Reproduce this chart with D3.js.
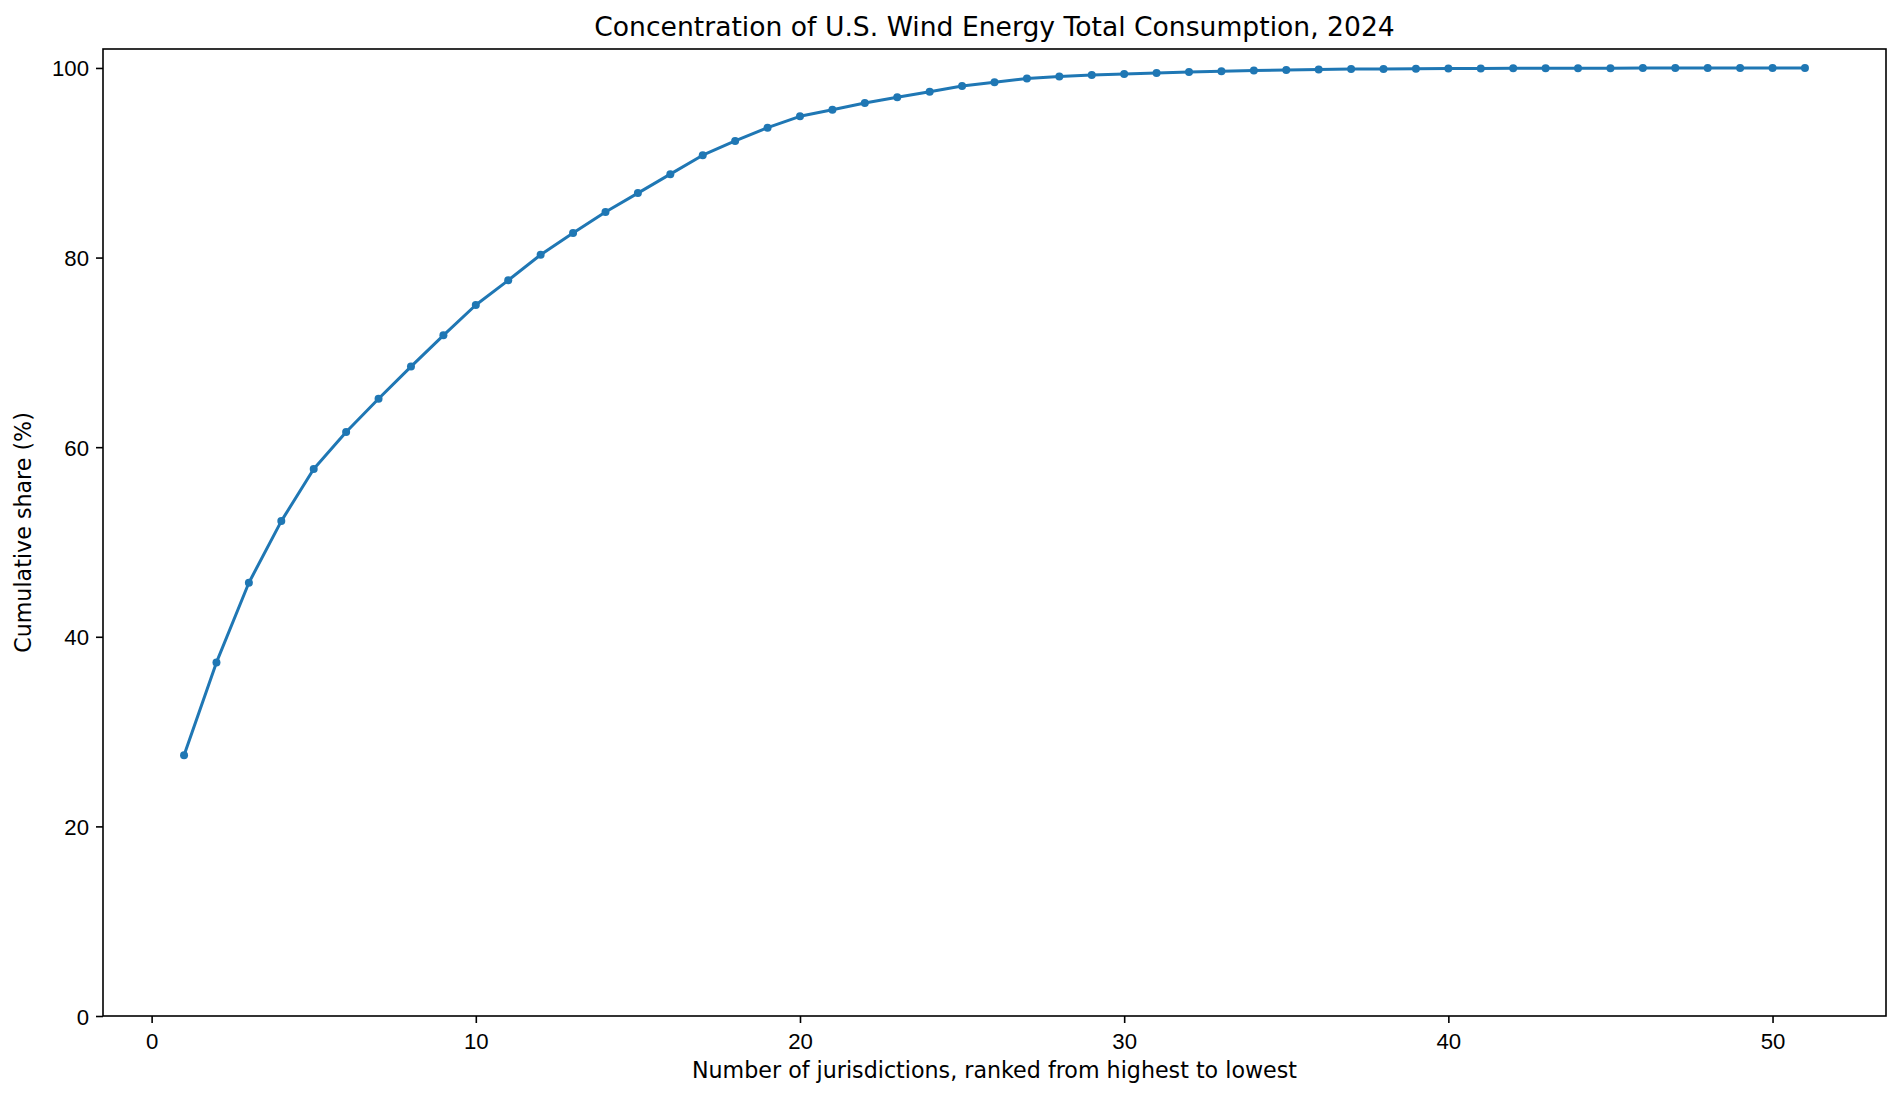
<!DOCTYPE html>
<html>
<head>
<meta charset="utf-8">
<script src="https://cdn.jsdelivr.net/npm/d3@7"></script>
<style>
  body { margin: 0; background: #fff; }
  svg { display: block; font-family: "DejaVu Sans", sans-serif; }
  .tick text { font-size: 22.2px; fill: #000; }
  .tick line { stroke: #000; stroke-width: 1.6; }
</style>
</head>
<body>
<div id="chart"></div>
<script>
// rank of jurisdiction, 1 = highest
var ranks = d3.range(1, 52);
// cumulative share of wind energy total consumption (%)
var cumShare = [
    27.5, 37.3, 45.7, 52.2, 57.7, 61.6, 65.1, 68.5, 71.8, 75.0,
    77.6, 80.3, 82.6, 84.8, 86.8, 88.8, 90.8, 92.3, 93.7, 94.9,
    95.6, 96.3, 96.9, 97.5, 98.1, 98.5, 98.9, 99.1, 99.25, 99.37,
    99.47, 99.57, 99.65, 99.74, 99.79, 99.85, 99.88, 99.9, 99.92, 99.93,
    99.95, 99.96, 99.97, 99.98, 99.98, 99.99, 99.99, 100, 100, 100, 100
];
var xTicks = [0, 10, 20, 30, 40, 50];
var yTicks = [0, 20, 40, 60, 80, 100];

var data = ranks.map(function(r, i) { return [r, cumShare[i]]; });

var width = 1902, height = 1096;
var margin = {top: 49, right: 16, bottom: 80, left: 103};
var innerW = width - margin.left - margin.right;
var innerH = height - margin.top - margin.bottom;

var svg = d3.select("#chart").append("svg")
    .attr("width", width)
    .attr("height", height);

var g = svg.append("g")
    .attr("transform", "translate(" + margin.left + "," + margin.top + ")");

var x = d3.scaleLinear().domain([-1.5, 53.5]).range([0, innerW]);
var y = d3.scaleLinear().domain([0, 102]).range([innerH, 0]);

var xAxis = g.append("g")
    .attr("transform", "translate(0," + innerH + ")")
    .call(d3.axisBottom(x).tickValues(xTicks).tickSize(7).tickPadding(6).tickSizeOuter(0));
var yAxis = g.append("g")
    .call(d3.axisLeft(y).tickValues(yTicks).tickSize(7).tickPadding(7).tickSizeOuter(0));
xAxis.select(".domain").remove();
yAxis.select(".domain").remove();
xAxis.selectAll(".tick text").attr("dy", "0.9em");
yAxis.selectAll(".tick text").attr("dy", "0.36em");

var line = d3.line()
    .x(function(d) { return x(d[0]); })
    .y(function(d) { return y(d[1]); });

g.append("path")
    .datum(data)
    .attr("d", line)
    .attr("fill", "none")
    .attr("stroke", "#1f77b4")
    .attr("stroke-width", 3)
    .attr("stroke-linejoin", "round")
    .attr("stroke-linecap", "square");

g.selectAll(".dot")
    .data(data)
    .enter()
    .append("circle")
    .attr("class", "dot")
    .attr("cx", function(d) { return x(d[0]); })
    .attr("cy", function(d) { return y(d[1]); })
    .attr("r", 4)
    .attr("fill", "#1f77b4");

// frame
g.append("rect")
    .attr("width", innerW)
    .attr("height", innerH)
    .attr("fill", "none")
    .attr("stroke", "#000")
    .attr("stroke-width", 1.6);

svg.append("text")
    .attr("x", margin.left + innerW / 2)
    .attr("y", 36)
    .attr("text-anchor", "middle")
    .style("font-size", "26.6px")
    .text("Concentration of U.S. Wind Energy Total Consumption, 2024");

svg.append("text")
    .attr("x", margin.left + innerW / 2)
    .attr("y", 1078)
    .attr("text-anchor", "middle")
    .style("font-size", "22.2px")
    .text("Number of jurisdictions, ranked from highest to lowest");

svg.append("text")
    .attr("transform", "translate(31," + (margin.top + innerH / 2) + ") rotate(-90)")
    .attr("text-anchor", "middle")
    .style("font-size", "22.2px")
    .text("Cumulative share (%)");
</script>
</body>
</html>
